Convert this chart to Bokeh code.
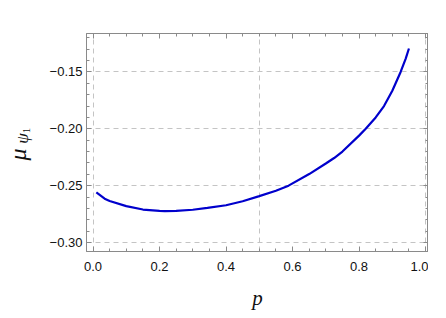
import math
from bokeh.plotting import figure
from bokeh.layouts import row
from bokeh.models import (LinearAxis, Range1d, FixedTicker, CustomJSTickFormatter,
                          Label, CustomLabelingPolicy)
from bokeh.embed import file_html
from bokeh.resources import INLINE

# data
p_vals = [0.01, 0.035, 0.05, 0.10, 0.15, 0.20, 0.216, 0.25, 0.30, 0.344, 0.40, 0.45,
          0.50, 0.55, 0.588, 0.65, 0.70, 0.725, 0.75, 0.80, 0.82, 0.85, 0.875,
          0.90, 0.925, 0.94, 0.95]
mu_vals = [-0.2560, -0.2615, -0.2635, -0.2680, -0.2710, -0.2722, -0.2724, -0.2722,
           -0.2712, -0.2695, -0.2672, -0.2637, -0.2592, -0.2545, -0.2500, -0.2398,
           -0.2305, -0.2257, -0.2200, -0.2060, -0.2000, -0.1900, -0.1800, -0.1665,
           -0.1500, -0.1385, -0.1294]

x_major = [0.0, 0.2, 0.4, 0.6, 0.8, 1.0]
x_minor = [round(0.05 * i, 2) for i in range(0, 21)]
y_major = [-0.30, -0.25, -0.20, -0.15]
y_minor = [round(-0.30 + 0.01 * i, 2) for i in range(0, 19)]
x_grid = [0.0, 0.5, 1.0]
y_grid = [-0.30, -0.25, -0.20, -0.15]

FRAME = "#8a8a8a"
TXT = "#111111"
LABEL_W = 36
H = 302

# ---- narrow strip holding the rotated y-axis label  mu_{psi_1}
lab = figure(width=LABEL_W, height=H, output_backend="svg", toolbar_location=None,
             x_axis_location=None, y_axis_location=None,
             min_border_left=0, min_border_right=0, min_border_top=0, min_border_bottom=0)
lab.outline_line_color = None
lab.grid.visible = False
lab.background_fill_color = "white"
lab.border_fill_color = "white"
common = dict(x_units="screen", y_units="screen", angle=math.pi / 2,
              text_align="center", text_baseline="middle", text_color=TXT,
              text_font="Liberation Serif")
lab.add_layout(Label(x=17, y=87, text="μ", text_font_size="24px",
                     text_font_style="italic", **common))
lab.add_layout(Label(x=22, y=103, text="ψ", text_font_size="17px",
                     text_font_style="italic", **common))
lab.add_layout(Label(x=26, y=111, text="1", text_font_size="11px", **common))

# ---- main plot
p = figure(frame_width=342, frame_height=218, output_backend="svg", toolbar_location=None,
           x_range=Range1d(-0.0196, 1.0088), y_range=Range1d(-0.3079, -0.1162),
           min_border_left=86 - LABEL_W, min_border_right=0, min_border_top=33,
           min_border_bottom=51)
p.background_fill_color = "white"
p.border_fill_color = "white"
p.outline_line_color = FRAME

p.line(p_vals, mu_vals, line_color="#0000cc", line_width=2.2)

xt = FixedTicker(ticks=x_major, minor_ticks=x_minor)
yt = FixedTicker(ticks=y_major, minor_ticks=y_minor)

no_labels = CustomLabelingPolicy(code="""
const n = indices.size;
for (let i = 0; i < n; i++) { indices.unset(i); }
return indices;
""")

def style(ax, show_labels):
    ax.axis_line_color = FRAME
    ax.major_tick_line_color = FRAME
    ax.minor_tick_line_color = FRAME
    ax.major_tick_in = 5
    ax.major_tick_out = 0
    ax.minor_tick_in = 3
    ax.minor_tick_out = 0
    if not show_labels:
        ax.major_label_policy = no_labels
        ax.major_label_text_font_size = "0px"
        ax.major_label_standoff = 0

xa = p.xaxis[0]
xa.ticker = xt
xa.formatter = CustomJSTickFormatter(code="return tick.toFixed(1);")
style(xa, True)
xa.major_label_text_font = "Liberation Sans"
xa.major_label_text_font_size = "13px"
xa.major_label_text_color = TXT
xa.major_label_standoff = 10
xa.axis_label = "p"
xa.axis_label_text_font = "Liberation Serif"
xa.axis_label_text_font_style = "italic"
xa.axis_label_text_font_size = "21px"
xa.axis_label_text_color = TXT
xa.axis_label_standoff = 12

ya = p.yaxis[0]
ya.ticker = yt
ya.formatter = CustomJSTickFormatter(code="return tick.toFixed(2).replace('-', '\\u2212');")
style(ya, True)
ya.major_label_text_font = "Liberation Sans"
ya.major_label_text_font_size = "13px"
ya.major_label_text_color = TXT
ya.major_label_standoff = 4

top = LinearAxis(ticker=xt)
style(top, False)
p.add_layout(top, "above")
right = LinearAxis(ticker=yt)
style(right, False)
p.add_layout(right, "right")

p.xgrid.ticker = FixedTicker(ticks=x_grid)
p.ygrid.ticker = FixedTicker(ticks=y_grid)
for g in (p.xgrid, p.ygrid):
    g.grid_line_color = "#c4c4c4"
    g.grid_line_dash = "5 4"
    g.grid_line_width = 1

layout = row(lab, p, spacing=0)
open("out.html", "w").write(file_html(layout, INLINE))
